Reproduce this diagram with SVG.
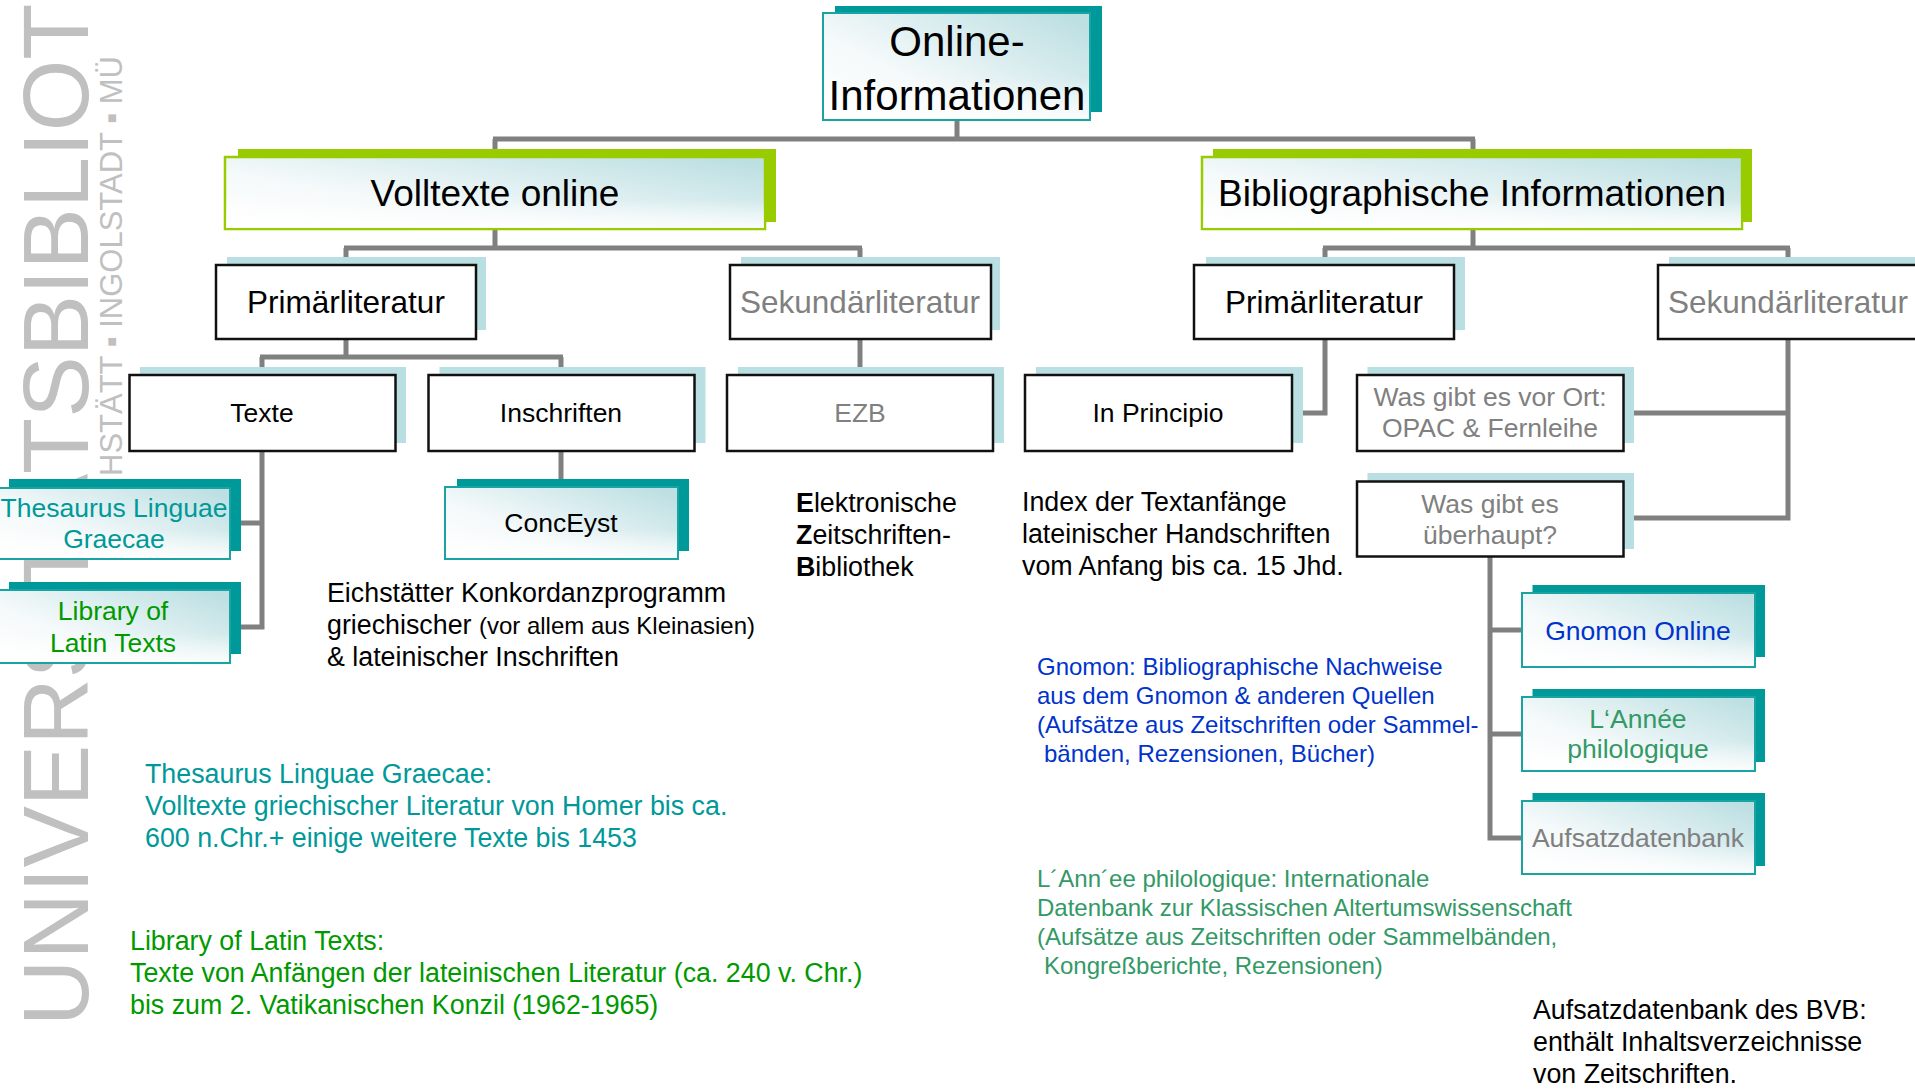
<svg xmlns="http://www.w3.org/2000/svg" width="1915" height="1089" viewBox="0 0 1915 1089">
<defs>
<linearGradient id="g" x1="0" y1="0.9" x2="1" y2="0.1">
<stop offset="0" stop-color="#ffffff"/>
<stop offset="0.35" stop-color="#f4f9fa"/>
<stop offset="1" stop-color="#bcdfe2"/>
</linearGradient>
<linearGradient id="gw" x1="0" y1="0" x2="0" y2="1">
<stop offset="0.6" stop-color="#ffffff" stop-opacity="0"/>
<stop offset="1" stop-color="#ffffff" stop-opacity="0.8"/>
</linearGradient>
</defs>
<style>
text{font-family:"Liberation Sans",Arial,"DejaVu Sans",sans-serif}
.conn{stroke:#808080;stroke-width:5;fill:none;stroke-linejoin:miter}
.sh-teal{fill:#009999}
.sh-green{fill:#99cc00}
.sh-blue{fill:#b9dfe2}
.fr-teal{fill:url(#g);stroke:#1aa3a3;stroke-width:2}
.fr-green{fill:url(#g);stroke:#99cc00;stroke-width:2.5}
.fr-plain{fill:#ffffff;stroke:#111111;stroke-width:2.5}
.ov{fill:url(#gw)}
.c{text-anchor:middle}
.l1{font-size:42px;fill:#000}
.l2{font-size:37px;fill:#000}
.l3{font-size:31.5px}
.l4{font-size:26.5px}
.blk{fill:#000}
.gry{fill:#808080}
.desc{font-size:26.8px}
.desc2{font-size:24px}
.wm{fill:#c0c0c0}
</style>

<g id="watermark">
<text class="wm" transform="translate(88,1026) rotate(-90)" font-size="92">UNIVERSITÄTSBIBLIOT</text>
<text class="wm" transform="translate(122,476) rotate(-90)" font-size="31">HSTÄTT ▪ INGOLSTADT ▪ MÜ</text>
</g>

<g id="connectors">
<path class="conn" d="M957,120 V139 M493,139 H1475 M495,139 V157 M1473,139 V157"/>
<path class="conn" d="M495,229 V248 M344,248 H862 M346,248 V265 M860,248 V265"/>
<path class="conn" d="M1473,229 V248 M1323,248 H1790 M1325,248 V265 M1788,248 V265"/>
<path class="conn" d="M346,339 V357 M260,357 H563 M262,357 V375 M561,357 V375"/>
<path class="conn" d="M860,339 V375"/>
<path class="conn" d="M1325,339 V413 H1292"/>
<path class="conn" d="M1788,339 V518 H1623 M1788,413 H1623"/>
<path class="conn" d="M262,451 V627 H230 M262,523 H230"/>
<path class="conn" d="M561,451 V487"/>
<path class="conn" d="M1490,556 V838 H1522 M1490,630 H1522 M1490,734 H1522"/>
</g>

<g id="node-root">
<rect class="sh-teal" x="835" y="6" width="267" height="106"/>
<rect class="fr-teal" x="823" y="13" width="267" height="107"/>
<rect class="ov" x="824" y="14" width="265" height="105"/>
<text class="c l1" x="957" y="56">Online-</text>
<text class="c l1" x="957" y="110">Informationen</text>
</g>

<g id="node-volltexte">
<rect class="sh-green" x="238" y="149" width="538" height="73"/>
<rect class="fr-green" x="225" y="157" width="540" height="72"/>
<rect class="ov" x="226" y="158" width="538" height="70"/>
<text class="c l2" x="495" y="206">Volltexte online</text>
</g>

<g id="node-biblio">
<rect class="sh-green" x="1213" y="149" width="539" height="73"/>
<rect class="fr-green" x="1202" y="157" width="540" height="72"/>
<rect class="ov" x="1203" y="158" width="538" height="70"/>
<text class="c l2" x="1472" y="206">Bibliographische Informationen</text>
</g>

<g id="node-primaer-l">
<rect class="sh-blue" x="227" y="257" width="259" height="73"/>
<rect class="fr-plain" x="216" y="265" width="260" height="74"/>
<text class="c l3 blk" x="346" y="313">Primärliteratur</text>
</g>

<g id="node-sekundaer-l">
<rect class="sh-blue" x="741" y="257" width="259" height="73"/>
<rect class="fr-plain" x="730" y="265" width="261" height="74"/>
<text class="c l3 gry" x="860" y="313">Sekundärliteratur</text>
</g>

<g id="node-primaer-r">
<rect class="sh-blue" x="1206" y="257" width="259" height="73"/>
<rect class="fr-plain" x="1194" y="265" width="260" height="74"/>
<text class="c l3 blk" x="1324" y="313">Primärliteratur</text>
</g>

<g id="node-sekundaer-r">
<rect class="sh-blue" x="1669" y="257" width="260" height="73"/>
<rect class="fr-plain" x="1658" y="265" width="262" height="74"/>
<text class="c l3 gry" x="1788" y="313">Sekundärliteratur</text>
</g>

<g id="node-texte">
<rect class="sh-blue" x="140" y="367" width="266" height="76"/>
<rect class="fr-plain" x="129.5" y="375" width="266" height="76"/>
<text class="c l4 blk" x="262" y="422">Texte</text>
</g>

<g id="node-inschriften">
<rect class="sh-blue" x="439.5" y="367" width="266" height="76"/>
<rect class="fr-plain" x="428.5" y="375" width="266" height="76"/>
<text class="c l4 blk" x="561" y="422">Inschriften</text>
</g>

<g id="node-ezb">
<rect class="sh-blue" x="738" y="367" width="266" height="76"/>
<rect class="fr-plain" x="727" y="375" width="266" height="76"/>
<text class="c l4 gry" x="860" y="422">EZB</text>
</g>

<g id="node-inprincipio">
<rect class="sh-blue" x="1036" y="367" width="267" height="76"/>
<rect class="fr-plain" x="1025" y="375" width="267" height="76"/>
<text class="c l4 blk" x="1158" y="422">In Principio</text>
</g>

<g id="node-opac">
<rect class="sh-blue" x="1367.5" y="367" width="266.5" height="76"/>
<rect class="fr-plain" x="1357" y="375" width="266.5" height="76"/>
<text class="c l4 gry" x="1490" y="406">Was gibt es vor Ort:</text>
<text class="c l4 gry" x="1490" y="437">OPAC &amp; Fernleihe</text>
</g>

<g id="node-ueberhaupt">
<rect class="sh-blue" x="1367.5" y="473" width="266.5" height="76"/>
<rect class="fr-plain" x="1357" y="481.5" width="266.5" height="75"/>
<text class="c l4 gry" x="1490" y="513">Was gibt es</text>
<text class="c l4 gry" x="1490" y="544">überhaupt?</text>
</g>

<g id="node-tlg">
<rect class="sh-teal" x="9" y="479" width="232" height="72"/>
<rect class="fr-teal" x="-2" y="488" width="232" height="71"/>
<rect class="ov" x="-1" y="489" width="230" height="69"/>
<text class="c l4" fill="#009999" x="114" y="517">Thesaurus Linguae</text>
<text class="c l4" fill="#009999" x="114" y="548">Graecae</text>
</g>

<g id="node-llt">
<rect class="sh-teal" x="9" y="582" width="232" height="72"/>
<rect class="fr-teal" x="-2" y="590" width="232" height="73"/>
<rect class="ov" x="-1" y="591" width="230" height="71"/>
<text class="c l4" fill="#009900" x="113" y="620">Library of</text>
<text class="c l4" fill="#009900" x="113" y="652">Latin Texts</text>
</g>

<g id="node-conceyst">
<rect class="sh-teal" x="457" y="479" width="232" height="72"/>
<rect class="fr-teal" x="445" y="487" width="233" height="72"/>
<rect class="ov" x="446" y="488" width="231" height="70"/>
<text class="c l4 blk" x="561" y="532">ConcEyst</text>
</g>

<g id="node-gnomon">
<rect class="sh-teal" x="1532.5" y="585" width="232.5" height="72"/>
<rect class="fr-teal" x="1522" y="593" width="233" height="74"/>
<rect class="ov" x="1523" y="594" width="231" height="72"/>
<text class="c l4" fill="#0033cc" x="1638" y="640">Gnomon Online</text>
</g>

<g id="node-annee">
<rect class="sh-teal" x="1532.5" y="689" width="232.5" height="73"/>
<rect class="fr-teal" x="1522" y="697" width="233" height="74"/>
<rect class="ov" x="1523" y="698" width="231" height="72"/>
<text class="c l4" fill="#339966" x="1638" y="728">L‘Année</text>
<text class="c l4" fill="#339966" x="1638" y="758">philologique</text>
</g>

<g id="node-aufsatz">
<rect class="sh-teal" x="1532.5" y="793" width="232.5" height="73"/>
<rect class="fr-teal" x="1522" y="801" width="233" height="73"/>
<rect class="ov" x="1523" y="802" width="231" height="71"/>
<text class="c l4 gry" x="1638" y="847">Aufsatzdatenbank</text>
</g>

<g id="notes">
<text class="desc blk" x="796" y="512"><tspan font-weight="bold">E</tspan>lektronische</text>
<text class="desc blk" x="796" y="544"><tspan font-weight="bold">Z</tspan>eitschriften-</text>
<text class="desc blk" x="796" y="576"><tspan font-weight="bold">B</tspan>ibliothek</text>

<text class="desc blk" x="1022" y="511">Index der Textanfänge</text>
<text class="desc blk" x="1022" y="543">lateinischer Handschriften</text>
<text class="desc blk" x="1022" y="575">vom Anfang bis ca. 15 Jhd.</text>

<text class="desc blk" x="327" y="602">Eichstätter Konkordanzprogramm</text>
<text class="desc blk" x="327" y="634">griechischer <tspan font-size="24px">(vor allem aus Kleinasien)</tspan></text>
<text class="desc blk" x="327" y="666">&amp; lateinischer Inschriften</text>

<text class="desc" fill="#009999" x="145" y="783">Thesaurus Linguae Graecae:</text>
<text class="desc" fill="#009999" x="145" y="815">Volltexte griechischer Literatur von Homer bis ca.</text>
<text class="desc" fill="#009999" x="145" y="847">600 n.Chr.+ einige weitere Texte bis 1453</text>

<text class="desc" fill="#009900" x="130" y="950">Library of Latin Texts:</text>
<text class="desc" fill="#009900" x="130" y="982">Texte von Anfängen der lateinischen Literatur (ca. 240 v. Chr.)</text>
<text class="desc" fill="#009900" x="130" y="1014">bis zum 2. Vatikanischen Konzil (1962-1965)</text>

<text class="desc2" fill="#0033cc" x="1037" y="675">Gnomon: Bibliographische Nachweise</text>
<text class="desc2" fill="#0033cc" x="1037" y="704">aus dem Gnomon &amp; anderen Quellen</text>
<text class="desc2" fill="#0033cc" x="1037" y="733">(Aufsätze aus Zeitschriften oder Sammel-</text>
<text class="desc2" fill="#0033cc" x="1044" y="762">bänden, Rezensionen, Bücher)</text>

<text class="desc2" fill="#339966" x="1037" y="887">L´Ann´ee philologique: Internationale</text>
<text class="desc2" fill="#339966" x="1037" y="916">Datenbank zur Klassischen Altertumswissenschaft</text>
<text class="desc2" fill="#339966" x="1037" y="945">(Aufsätze aus Zeitschriften oder Sammelbänden,</text>
<text class="desc2" fill="#339966" x="1044" y="974">Kongreßberichte, Rezensionen)</text>

<text class="desc blk" x="1533" y="1019">Aufsatzdatenbank des BVB:</text>
<text class="desc blk" x="1533" y="1051">enthält Inhaltsverzeichnisse</text>
<text class="desc blk" x="1533" y="1083">von Zeitschriften.</text>
</g>
</svg>
